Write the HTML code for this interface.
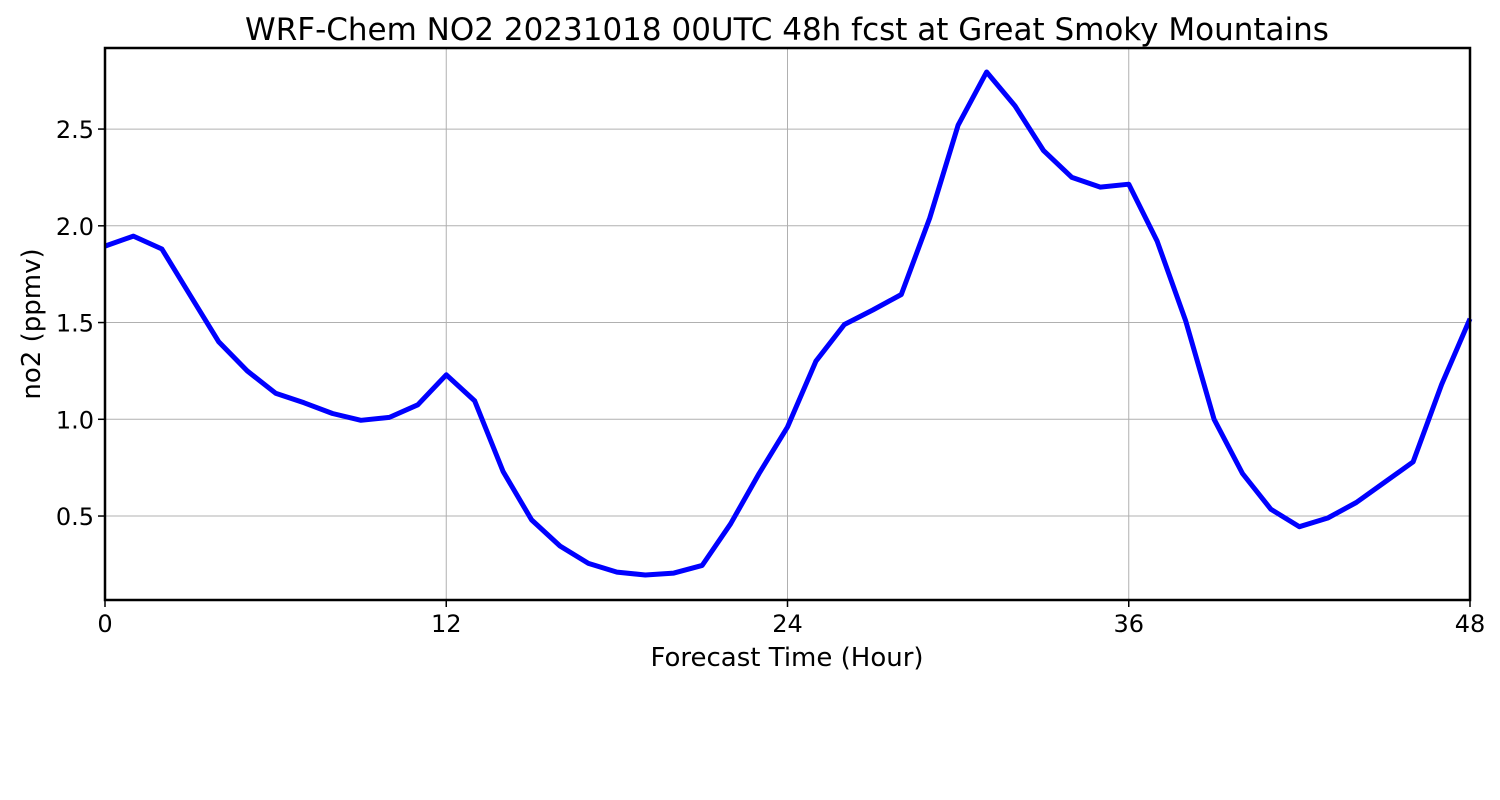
<!DOCTYPE html>
<html><head><meta charset="utf-8"><style>
body{margin:0;background:#fff;}
svg{display:block;font-family:"DejaVu Sans","Liberation Sans",sans-serif;}
</style></head><body>
<svg id="chart" width="1500" height="800">
<text x="787" y="40" font-size="31" text-anchor="middle">WRF-Chem NO2  20231018 00UTC 48h fcst at Great Smoky Mountains</text>
<g id="grid"></g>
<g id="ticks"></g>
<path id="line" fill="none" stroke="#0000ff" stroke-width="5" stroke-linejoin="round"></path>
<rect x="105" y="48" width="1365" height="552" fill="none" stroke="#000" stroke-width="2.5"></rect>
<text x="787" y="666" font-size="26" text-anchor="middle">Forecast Time (Hour)</text>
<text transform="translate(40,324) rotate(-90)" font-size="26" text-anchor="middle">no2  (ppmv)</text>
</svg>
<script>
const hours=[0,1,2,3,4,5,6,7,8,9,10,11,12,13,14,15,16,17,18,19,20,21,22,23,24,25,26,27,28,29,30,31,32,33,34,35,36,37,38,39,40,41,42,43,44,45,46,47,48];
const no2=[1.895,1.947,1.88,1.64,1.40,1.25,1.135,1.085,1.03,0.995,1.01,1.075,1.23,1.095,0.73,0.48,0.345,0.255,0.21,0.195,0.205,0.245,0.46,0.72,0.96,1.30,1.49,1.565,1.645,2.04,2.52,2.795,2.62,2.39,2.25,2.20,2.215,1.92,1.51,1.00,0.72,0.535,0.445,0.49,0.57,0.675,0.78,1.18,1.52];
const xTicks=[0,12,24,36,48];
const yTicks=[0.5,1.0,1.5,2.0,2.5];
const yTickLabels=["0.5","1.0","1.5","2.0","2.5"];
const X0=105,X1=1470,Y0=600,Y1=48,xMin=0,xMax=48,yMin=0.066,yMax=2.919;
const sx=v=>X0+(v-xMin)/(xMax-xMin)*(X1-X0);
const sy=v=>Y0-(v-yMin)/(yMax-yMin)*(Y0-Y1);
const NS="http://www.w3.org/2000/svg";
const grid=document.getElementById('grid'),ticks=document.getElementById('ticks');
function mk(tag,attrs,parent){const e=document.createElementNS(NS,tag);for(const k in attrs)e.setAttribute(k,attrs[k]);parent.appendChild(e);return e;}
xTicks.forEach(t=>{const x=sx(t);
 const g=mk('line',{x1:x,x2:x,y1:Y1,y2:Y0,stroke:'#b0b0b0','stroke-width':1},grid);
 
 
 const tk=mk('line',{x1:x,x2:x,y1:Y0,y2:Y0+7,stroke:'#000','stroke-width':1.5},ticks);
 
 
 const l=mk('text',{x:x,y:Y0+32,'font-size':24,'text-anchor':'middle'},ticks);l.textContent=t;
 
 
});
yTicks.forEach((t,i)=>{const y=sy(t);
 const g=mk('line',{x1:X0,x2:X1,y1:y,y2:y,stroke:'#b0b0b0','stroke-width':1},grid);
 
 
 const tk=mk('line',{x1:X0-7,x2:X0,y1:y,y2:y,stroke:'#000','stroke-width':1.5},ticks);
 
 
 const l=mk('text',{x:X0-11,y:y+9,'font-size':24,'text-anchor':'end'},ticks);l.textContent=yTickLabels[i];
 
 
});
document.getElementById('line').setAttribute('d',hours.map((h,i)=>(i?'L':'M')+sx(h).toFixed(1)+','+sy(no2[i]).toFixed(1)).join(''));
</script>
</body></html>
